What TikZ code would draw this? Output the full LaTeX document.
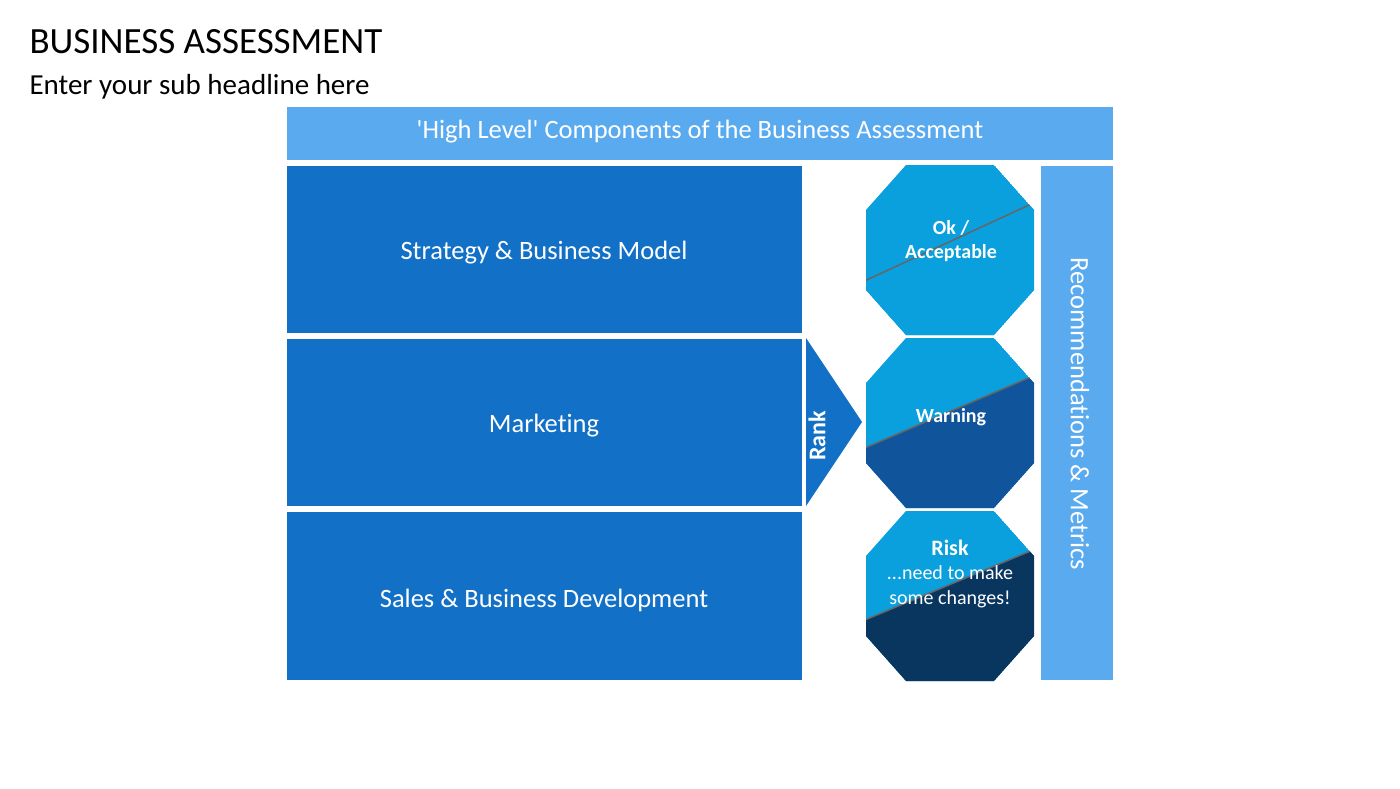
\documentclass[tikz,border=0pt]{standalone}
\usepackage{fontspec}
\setmainfont{Carlito}[Ligatures={NoCommon}]
\definecolor{boxblue}{HTML}{1270C6}
\definecolor{lightbar}{HTML}{5AAAF0}
\definecolor{okblue}{HTML}{0A9FDD}
\definecolor{warnblue}{HTML}{10549C}
\definecolor{riskblue}{HTML}{08365F}
\newcommand{\octaShape}[2]
{
    % octagon around (#1,#2), 168 wide, 170 high
    (#1-84,#2-40) -- (#1-44,#2-85) -- (#1+44,#2-85) -- (#1+84,#2-40)
    -- (#1+84,#2+40) -- (#1+44,#2+85) -- (#1-44,#2+85) -- (#1-84,#2+40) -- cycle
}
\newcommand{\octaSplit}[5]
{
    \begin{scope}
        \clip \octaShape{#1}{#2};
        \fill[okblue] \octaShape{#1}{#2};
        \fill[#5] (#1-90,#2+#3) -- (#1+90,#2+#4) -- (#1+90,#2+100) -- (#1-90,#2+100) -- cycle;
        \draw[black!60, line width=1.5pt] (#1-90,#2+#3) -- (#1+90,#2+#4);
    \end{scope}
}
\tikzset{
    blocktext/.style={text=white, font=\fontsize{26.5}{30}\selectfont},
    octatext/.style={text=white, font=\fontsize{20}{24}\selectfont\bfseries, align=center}
}
\begin{document}
\begin{tikzpicture}[x=1pt,y=-1pt]
    \useasboundingbox (0,0) rectangle (1400,788);

    %titles
    \node[anchor=west, font=\fontsize{37}{42}\selectfont] (title) at (26,42) {BUSINESS ASSESSMENT};
    \node[anchor=west, font=\fontsize{29}{33}\selectfont] (sub) at (26,87) {Enter your sub headline here};

    %header and side bar
    \fill[lightbar] (287,107) rectangle (1113,160);
    \node[blocktext] (head) at (700,132) {\textquotesingle High Level\textquotesingle{} Components of the Business Assessment};
    \fill[lightbar] (1041,166) rectangle (1113,680);
    \node[blocktext, rotate=-90] (recs) at (1080,414) {Recommendations \& Metrics};

    %component blocks
    \fill[boxblue] (287,166) rectangle (802,333);
    \node[blocktext] (strat) at (544,253) {Strategy \& Business Model};
    \fill[boxblue] (287,339) rectangle (802,506);
    \node[blocktext] (mkt) at (544,426) {Marketing};
    \fill[boxblue] (287,512) rectangle (802,680);
    \node[blocktext] (sales) at (544,600) {Sales \& Business Development};

    %rank arrow
    \fill[boxblue] (806,338) -- (862,422) -- (806,506) -- cycle;
    \node[text=white, font=\fontsize{24}{28}\selectfont\bfseries, rotate=90] (rank) at (817,436) {Rank};

    %octagons
    \octaSplit{950}{250}{33}{-50}{okblue}
    \octaSplit{950}{423}{27}{-50}{warnblue}
    \octaSplit{950}{596}{26}{-49}{riskblue}

    \node[octatext] (ok) at (951,241) {Ok /\\Acceptable};
    \node[octatext] (warn) at (951,417) {Warning};
    \node[octatext, font=\fontsize{22}{26}\selectfont\bfseries] (risk) at (950,548) {Risk};
    \node[octatext, font=\fontsize{20}{25}\selectfont] (riskt) at (950,587) {...need to make\\some changes!};
\end{tikzpicture}
\end{document}
